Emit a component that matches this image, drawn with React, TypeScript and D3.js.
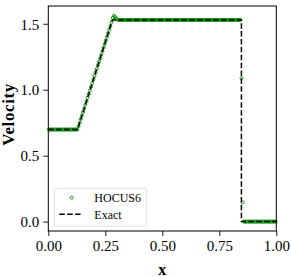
import React, { useEffect, useRef } from "react";
import * as d3 from "d3";

// HOCUS6 cell averages on a 200-cell mesh over [0, 1]
const nCells = 200;
const hocusU = [
  0.698, 0.698, 0.698, 0.698, 0.698, 0.698, 0.698, 0.698, 0.698, 0.698, 0.698, 0.698, 0.698,
  0.698, 0.698, 0.698, 0.698, 0.698, 0.698, 0.698, 0.698, 0.698, 0.698, 0.698, 0.698, 0.698,
  0.722, 0.750, 0.777, 0.804, 0.831, 0.858, 0.885, 0.912, 0.939, 0.967, 0.994, 1.021,
  1.048, 1.075, 1.103, 1.130, 1.157, 1.184, 1.211, 1.238, 1.265, 1.293, 1.320, 1.347,
  1.374, 1.401, 1.428, 1.456, 1.483, 1.512, 1.545, 1.560, 1.552, 1.538, 1.532,
  1.529, 1.529, 1.529, 1.529, 1.529, 1.529, 1.529, 1.529, 1.529, 1.529, 1.529, 1.529,
  1.529, 1.529, 1.529, 1.529, 1.529, 1.529, 1.529, 1.529, 1.529, 1.529, 1.529, 1.529,
  1.529, 1.529, 1.529, 1.529, 1.529, 1.529, 1.529, 1.529, 1.529, 1.529, 1.529, 1.529,
  1.529, 1.529, 1.529, 1.529, 1.529, 1.529, 1.529, 1.529, 1.529, 1.529, 1.529, 1.529,
  1.529, 1.529, 1.529, 1.529, 1.529, 1.529, 1.529, 1.529, 1.529, 1.529, 1.529, 1.529,
  1.529, 1.529, 1.529, 1.529, 1.529, 1.529, 1.529, 1.529, 1.529, 1.529, 1.529, 1.529,
  1.529, 1.529, 1.529, 1.529, 1.529, 1.529, 1.529, 1.529, 1.529, 1.529, 1.529, 1.529,
  1.529, 1.529, 1.529, 1.529, 1.529, 1.529, 1.529, 1.529, 1.529, 1.529, 1.529, 1.529,
  1.529, 1.529, 1.529, 1.529, 1.529, 1.529, 1.529, 1.529, 1.529, 1.529, 1.529, 1.529,
  1.087, 0.146,
  0, 0, 0, 0, 0, 0, 0, 0, 0, 0, 0, 0, 0, 0, 0,
  0, 0, 0, 0, 0, 0, 0, 0, 0, 0, 0, 0, 0, 0,
];

// exact solution (piecewise linear)
const exactX = [0, 0.128, 0.281, 0.847, 0.847, 1];
const exactU = [0.698, 0.698, 1.529, 1.529, 0, 0];

const xTicks = [0, 0.25, 0.5, 0.75, 1];
const yTicks = [0, 0.5, 1, 1.5];

const W = 291;
const H = 277;
const serif = "'Liberation Serif', 'DejaVu Serif', serif";

export default function App() {
  const svgRef = useRef<SVGSVGElement>(null);

  useEffect(() => {
    const svg = d3.select(svgRef.current);
    svg.selectAll("*").remove();

    const left = 48.3, right = 276.3, top = 6, bottom = 231;
    const x = d3.scaleLinear().domain([0, 1]).range([left, right]);
    const y = d3.scaleLinear().domain([-0.0713, 1.6346]).range([bottom, top]);

    const cellX = d3.range(nCells).map((i) => (i + 0.5) / nCells);

    // markers
    svg
      .append("g")
      .selectAll("circle")
      .data(hocusU)
      .join("circle")
      .attr("cx", (d, i) => x(cellX[i]))
      .attr("cy", (d) => y(d))
      .attr("r", 1.5)
      .attr("fill", "none")
      .attr("stroke", "#009000")
      .attr("stroke-width", 0.9);

    // exact line
    const line = d3
      .line<number>()
      .x((d, i) => x(exactX[i]))
      .y((d) => y(d));
    svg
      .append("path")
      .datum(exactU)
      .attr("fill", "none")
      .attr("stroke", "black")
      .attr("stroke-width", 1.5)
      .attr("stroke-dasharray", "5.5,2.4")
      .attr("d", line);

    // axes
    const xAxis = svg
      .append("g")
      .attr("transform", `translate(0,${bottom})`)
      .call(d3.axisBottom(x).tickValues(xTicks).tickFormat(d3.format(".2f")).tickSize(5).tickPadding(4));
    const yAxis = svg
      .append("g")
      .attr("transform", `translate(${left},0)`)
      .call(d3.axisLeft(y).tickValues(yTicks).tickFormat(d3.format(".1f")).tickSize(5).tickPadding(4));
    [xAxis, yAxis].forEach((g) => {
      g.select(".domain").remove();
      g.selectAll("line").attr("stroke", "black").attr("stroke-width", 0.9);
      g.selectAll("text").attr("font-family", serif).attr("font-size", 15).attr("fill", "black");
    });
    yAxis.selectAll("text").attr("dy", "0.35em");

    // frame
    svg
      .append("rect")
      .attr("x", left)
      .attr("y", top)
      .attr("width", right - left)
      .attr("height", bottom - top)
      .attr("fill", "none")
      .attr("stroke", "black")
      .attr("stroke-width", 1);

    // axis labels
    svg
      .append("text")
      .attr("x", (left + right) / 2)
      .attr("y", 274.5)
      .attr("text-anchor", "middle")
      .attr("font-family", serif)
      .attr("font-weight", "bold")
      .attr("font-size", 16)
      .text("x");
    svg
      .append("text")
      .attr("transform", `translate(13.5,${(top + bottom) / 2 - 4}) rotate(-90)`)
      .attr("text-anchor", "middle")
      .attr("font-family", serif)
      .attr("font-weight", "bold")
      .attr("font-size", 17)
      .attr("letter-spacing", 0.6)
      .text("Velocity");

    // legend
    const lg = svg.append("g");
    lg.append("rect")
      .attr("x", 54.3)
      .attr("y", 188.3)
      .attr("width", 92.4)
      .attr("height", 37.7)
      .attr("rx", 2.5)
      .attr("fill", "white")
      .attr("fill-opacity", 0.8)
      .attr("stroke", "#d5d5d5")
      .attr("stroke-width", 0.8);
    lg.append("circle")
      .attr("cx", 71.7)
      .attr("cy", 197.7)
      .attr("r", 1.5)
      .attr("fill", "none")
      .attr("stroke", "#009000")
      .attr("stroke-width", 0.9);
    lg.append("line")
      .attr("x1", 59.3)
      .attr("x2", 81.7)
      .attr("y1", 214.3)
      .attr("y2", 214.3)
      .attr("stroke", "black")
      .attr("stroke-width", 1.5)
      .attr("stroke-dasharray", "5.5,2.4");
    lg.append("text")
      .attr("x", 94.3)
      .attr("y", 202)
      .attr("font-family", serif)
      .attr("font-size", 12)
      .text("HOCUS6");
    lg.append("text")
      .attr("x", 94.3)
      .attr("y", 218.5)
      .attr("font-family", serif)
      .attr("font-size", 12)
      .text("Exact");
  }, []);

  return (
    <svg
      ref={svgRef}
      width={W}
      height={H}
      style={{ position: "absolute", left: 0, top: 0, background: "white" }}
    />
  );
}
